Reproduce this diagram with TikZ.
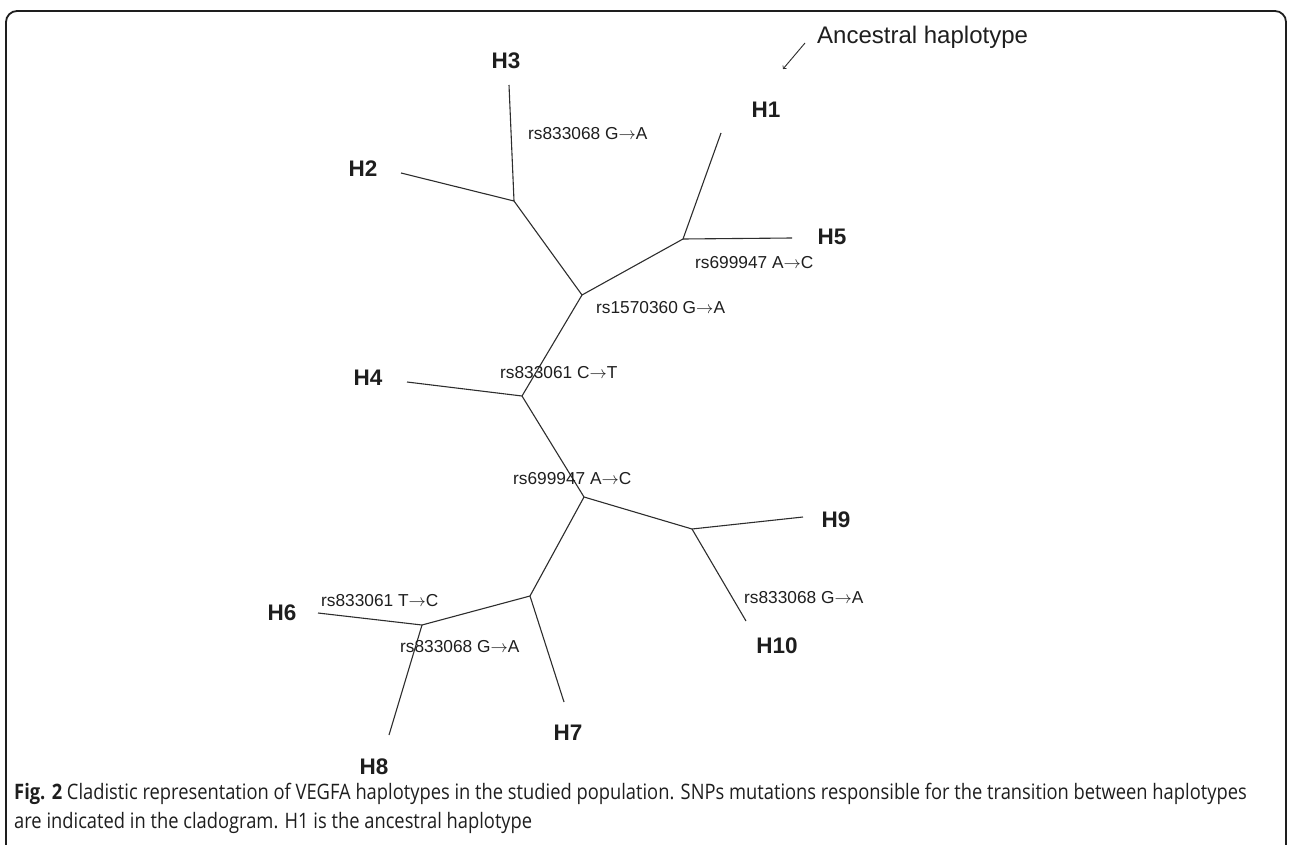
\documentclass[tikz,border=0pt]{standalone}
\usepackage{fontspec}
\setmainfont{Liberation Sans}
\newfontfamily\capfont[FakeStretch=0.86]{Open Sans}
\usetikzlibrary{positioning}
\definecolor{tree-gray}{RGB}{45,45,45}
\definecolor{text-gray}{RGB}{30,30,30}

\begin{document}
\begin{tikzpicture}[x=1pt,y=-1pt,
  branch/.style={draw=tree-gray, line width=1.1pt},
  hap/.style={font=\fontsize{22.5}{24}\selectfont\bfseries, text=text-gray, inner sep=0pt},
  snp/.style={font=\fontsize{17.3}{19}\selectfont, text=text-gray, inner sep=0pt, anchor=west},
  capline/.style={font=\capfont\fontsize{21.3}{24}\selectfont, text=text-gray, inner sep=0pt, anchor=base west}]
\useasboundingbox (0,0) rectangle (1289,845);
% frame
\draw[line width=1.8pt, draw=text-gray, rounded corners=11pt] (6,860) -- (6,11) -- (1286,11) -- (1286,860);

% junctions
\coordinate (j1) at (514,201);
\coordinate (j2) at (582,295);
\coordinate (j3) at (683,239);
\coordinate (j4) at (522,396);
\coordinate (j5) at (584,497);
\coordinate (j6) at (692,529);
\coordinate (j7) at (530,596);
\coordinate (j8) at (422,625);
% leaf ends
\coordinate (t1) at (721,133);
\coordinate (t2) at (401,173);
\coordinate (t3) at (509,85);
\coordinate (t4) at (407,382);
\coordinate (t5) at (792,238);
\coordinate (t6) at (318,613);
\coordinate (t7) at (564,702);
\coordinate (t8) at (389,735);
\coordinate (t9) at (803,517);
\coordinate (t10) at (746,621);

\draw[branch] (t3) -- (j1) -- (t2);
\draw[branch] (j1) -- (j2) -- (j3) -- (t1);
\draw[branch] (j3) -- (t5);
\draw[branch] (j2) -- (j4) -- (t4);
\draw[branch] (j4) -- (j5) -- (j6) -- (t9);
\draw[branch] (j6) -- (t10);
\draw[branch] (j5) -- (j7) -- (t7);
\draw[branch] (j7) -- (j8) -- (t6);
\draw[branch] (j8) -- (t8);

% haplotypes
\node[hap] (h1) at (766,110) {H1};
\node[hap] (h2) at (363,169) {H2};
\node[hap] (h3) at (506,61) {H3};
\node[hap] (h4) at (368,378) {H4};
\node[hap] (h5) at (832,237) {H5};
\node[hap] (h6) at (282,613) {H6};
\node[hap] (h7) at (568,733) {H7};
\node[hap] (h8) at (374,767) {H8};
\node[hap] (h9) at (836,520) {H9};
\node[hap] (h10) at (777,646) {H10};

% mutations
\node[snp] (m1) at (528,134) {rs833068 G$\rightarrow$A};
\node[snp] (m2) at (695,263) {rs699947 A$\rightarrow$C};
\node[snp] (m3) at (596,308) {rs1570360 G$\rightarrow$A};
\node[snp] (m4) at (500,373) {rs833061 C$\rightarrow$T};
\node[snp] (m5) at (513,479) {rs699947 A$\rightarrow$C};
\node[snp] (m6) at (744,598) {rs833068 G$\rightarrow$A};
\node[snp] (m7) at (321,601) {rs833061 T$\rightarrow$C};
\node[snp] (m8) at (400,647) {rs833068 G$\rightarrow$A};

% ancestral marker
\node[font=\fontsize{24}{26}\selectfont, text=text-gray, inner sep=0pt, anchor=west] (anc) at (817,37) {Ancestral haplotype};
\coordinate (anc-tail) at (805,43);
\coordinate (anc-head) at (783,69);
\draw[->, draw=tree-gray, line width=0.9pt] (anc-tail) -- (anc-head);

% caption
\node[capline] (cap1) at (14,799) {\textbf{Fig. 2} Cladistic representation of VEGFA haplotypes in the studied population. SNPs mutations responsible for the transition between haplotypes};
\node[capline] (cap2) at (14,828) {are indicated in the cladogram. H1 is the ancestral haplotype};
\end{tikzpicture}
\end{document}
